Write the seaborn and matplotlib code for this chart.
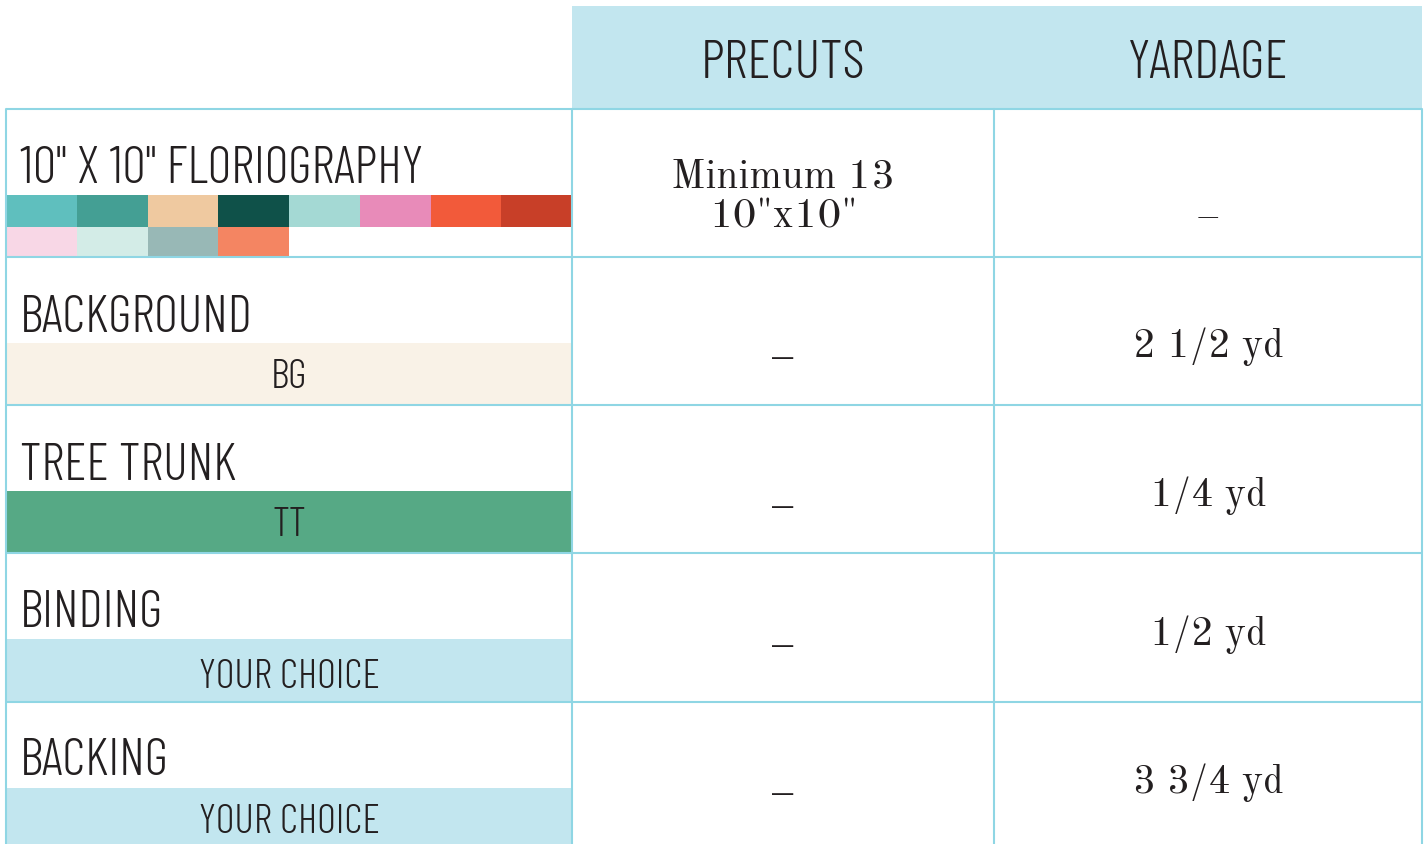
import matplotlib
matplotlib.use("Agg")
import matplotlib.pyplot as plt
import seaborn as sns

# ---------------- data ----------------
headers = ["PRECUTS", "YARDAGE"]
row_labels = ['10" X 10" FLORIOGRAPHY', "BACKGROUND", "TREE TRUNK", "BINDING", "BACKING"]
band_labels = [None, "BG", "TT", "YOUR CHOICE", "YOUR CHOICE"]
band_colors = [None, "#F9F2E7", "#56A985", "#C2E6EF", "#C2E6EF"]
precuts_lines = [["Minimum 13", '10"x10"'], ["_"], ["_"], ["_"], ["_"]]
yardage = ["\u2013", "2 1/2 yd", "1/4 yd", "1/2 yd", "3 3/4 yd"]
swatch_colors = ["#5FBFBE", "#449F94", "#EFC9A0", "#0F5149", "#A4D9D4", "#E88BB9",
                 "#F25A3A", "#C83F28", "#F8D7E6", "#D3ECE7", "#98B8B6", "#F48562"]

# ---------------- style ----------------
sns.set_theme(style="white")
SANS = ["Barlow Condensed", "DejaVu Sans"]
SERIF = ["Old Standard TT", "Liberation Serif", "DejaVu Serif"]
plt.rcParams["font.family"] = SANS
HEAD = "#C2E6EF"
GRID = "#8FD6E4"
INK = "#231F20"

fig = plt.figure(figsize=(14.26, 8.44), dpi=100)
ax = fig.add_axes([0, 0, 1, 1])
ax.set_xlim(0, 1426)
ax.set_ylim(844, 0)
ax.axis("off")

# geometry (layout)
x_left, x_c1, x_c2, x_right = 6, 572, 994, 1422
row_top = [109, 257, 405, 553, 702]
row_bot = [257, 405, 553, 702, 844]

# header band
ax.bar(x_c1, 102, width=x_right - x_c1, bottom=6, align="edge", color=HEAD, linewidth=0)
for h, xc in zip(headers, [(x_c1 + x_c2) / 2, (x_c2 + x_right) / 2]):
    ax.text(xc, 78, h, ha="center", va="baseline", fontsize=39, weight=300,
            color=INK, family=SANS)

# swatches
sw_w = (x_c1 - x_left) / 8
sw_y = [195, 227]
sw_h = [32, 29]
for i, c in enumerate(swatch_colors):
    col, r = i % 8, i // 8
    ax.bar(x_left + col * sw_w, sw_h[r], width=sw_w, bottom=sw_y[r], align="edge",
           color=c, linewidth=0)

# bands for other rows
band_top = [None, 343, 491, 639, 788]
label_base = [183, 332, 480, 627, 775]
band_text_base = [None, 388, 536, 688, 833]
for i in range(5):
    ax.text(20, label_base[i], row_labels[i], ha="left", va="baseline", fontsize=37.5,
            weight=300, color=INK, family=SANS)
    if band_colors[i] is not None:
        ax.bar(x_left, row_bot[i] - band_top[i], width=x_c1 - x_left, bottom=band_top[i],
               align="edge", color=band_colors[i], linewidth=0)
        ax.text((x_left + x_c1) / 2, band_text_base[i], band_labels[i], ha="center",
                va="baseline", fontsize=29.5, weight=300, color=INK, family=SANS)

# precuts column
pc_x = (x_c1 + x_c2) / 2
yd_x = (x_c2 + x_right) / 2
pc_base = [[188, 228], [353], [502], [641], [789]]
for i in range(5):
    for line, yb in zip(precuts_lines[i], pc_base[i]):
        ax.text(pc_x, yb, line, ha="center", va="baseline", fontsize=29.5,
                color=INK, family=SERIF)

# yardage column
yd_base = [228, 357, 506, 645, 793]
for i in range(5):
    ax.text(yd_x, yd_base[i], yardage[i], ha="center", va="baseline", fontsize=28.5,
            color=INK, family=SERIF)

# grid lines
lw = 1.5
for y in row_top:
    ax.plot([x_left, x_right], [y, y], color=GRID, lw=lw, solid_capstyle="butt")
for x in [x_left, x_c1, x_c2, x_right]:
    ax.plot([x, x], [109, 844], color=GRID, lw=lw)

fig.savefig("out.png", dpi=100)
